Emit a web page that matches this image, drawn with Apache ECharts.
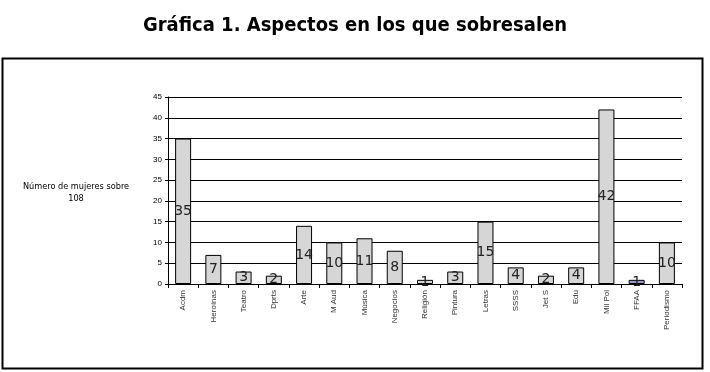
<!DOCTYPE html>
<html><head><meta charset="utf-8">
<script src="https://cdn.jsdelivr.net/npm/echarts@6/dist/echarts.min.js"></script>
<style>html,body{margin:0;padding:0;background:#fff}#c{width:710px;height:372px}</style>
</head><body><div id="c"></div>
<script>
const categories = ["Acdm","Heroínas","Teatro","Dprts","Arte","M Aud","Música","Negocios","Religión","Pintura","Letras","SSSS","Jet S","Edu","Mil Pol","FFAA","Periodismo"];
const values = [35,7,3,2,14,10,11,8,1,3,15,4,2,4,42,1,10];
const yTicks = {min:0, max:45, interval:5};
const titleText = "Gráfica 1. Aspectos en los que sobresalen";
const yName = "Número de mujeres sobre\n108";

const chart = echarts.init(document.getElementById('c'), null, {renderer:'canvas'});
chart.setOption({
  animation:false,
  title:{text:titleText,left:'center',top:11,textStyle:{fontFamily:'DejaVu Sans Condensed',fontWeight:'bold',fontSize:20,color:'#000'}},
  graphic:[
    {type:'rect',shape:{x:2.5,y:58.5,width:700,height:310},style:{fill:null,stroke:'#000',lineWidth:2},z:-1},
    {type:'text',x:76,y:181,style:{text:yName,fontFamily:'DejaVu Sans',fontSize:8.2,fill:'#000',align:'center',lineHeight:12}}
  ],
  grid:{left:168,right:28,top:97,bottom:88,containLabel:false},
  xAxis:{type:'category',data:categories,
    axisLine:{lineStyle:{color:'#000',width:1}},
    axisTick:{show:true,alignWithLabel:false,length:4,lineStyle:{color:'#000'}},
    axisLabel:{rotate:90,interval:0,fontFamily:'Liberation Sans',fontSize:8,color:'#333',margin:6}},
  yAxis:{type:'value',min:yTicks.min,max:yTicks.max,interval:yTicks.interval,
    axisLine:{show:true,lineStyle:{color:'#000'}},
    axisTick:{show:true,inside:false,length:3,lineStyle:{color:'#000'}},
    splitLine:{lineStyle:{color:'#000',width:1}},
    axisLabel:{fontFamily:'Liberation Sans',fontSize:8,color:'#000',margin:6}},
  series:[{type:'bar',barWidth:16,
    data:values.map((v,i)=>({value:v,itemStyle:{color:categories[i]==='FFAA'?'#9a9acb':'#d6d6d6'}})),
    itemStyle:{borderColor:'#000',borderWidth:1},
    label:{show:true,position:'inside',fontFamily:'DejaVu Sans',fontSize:14,color:'#222'}}]
});
</script></body></html>
